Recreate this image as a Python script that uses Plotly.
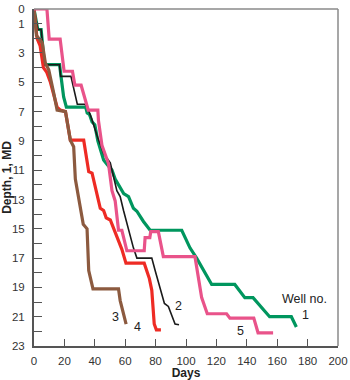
import plotly.graph_objects as go

# Drilling progress: measured depth vs. elapsed days for five wells
days_w1 = [0, 2.5, 4.7, 6.9, 16.8, 19.5, 21.3, 34, 35, 36.5, 38.2, 40, 42, 45.8, 48, 51.3,
           53.4, 57, 59, 62.2, 65.4, 67.7, 72, 76.4, 97.2, 102.6, 107, 116.9, 132.1, 138.7,
           144.1, 155, 169.3, 172.6]
depth_w1 = [0, 1.4, 1.4, 3.8, 3.8, 6.0, 6.7, 6.7, 7.1, 7.2, 7.7, 7.9, 9.0, 10.3, 10.6, 11.0,
            11.6, 12.3, 12.6, 12.8, 13.6, 13.8, 14.5, 15.1, 15.1, 16.3, 17.0, 18.8, 18.8, 19.7,
            19.7, 21.0, 21.0, 21.7]

days_w2 = [0, 2.5, 4.7, 6.9, 16.8, 17.5, 24.3, 28.5, 33.5, 35.5, 38, 42, 46, 50.2, 54.5,
           56.7, 58.9, 60, 65.4, 67.7, 77.5, 79.7, 83, 85.8, 88.4, 90.6, 92.8, 95.4]
depth_w2 = [0, 1.4, 1.4, 3.8, 3.8, 4.6, 4.6, 6.5, 6.5, 6.8, 7.5, 8.8, 9.9, 10.5, 12.4,
            12.8, 13.75, 14.2, 16.3, 17.0, 17.0, 17.85, 19.0, 20.1, 20.3, 20.9, 21.5, 21.55]

days_w3 = [0, 1.6, 3.1, 5.4, 7.5, 9.7, 13, 15.2, 20.7, 22.8, 23.9, 26.1, 27.2, 32.4, 34.9,
           36, 38.8, 55.6, 56.7, 60.6]
depth_w3 = [0, 1.8, 2.0, 2.3, 3.7, 4.15, 5.75, 6.9, 7.0, 8.3, 8.95, 9.4, 11.6, 14.7, 15.0,
            17.85, 19.1, 19.1, 19.9, 21.5]

days_w4 = [0, 2, 4, 6.2, 8.3, 10.8, 15.2, 17.4, 20.7, 23.9, 32.7, 36, 38.2, 43.6, 45.8,
           47.5, 50.2, 57.8, 60.5, 72.5, 75.9, 77.5, 79.1, 80.5, 83.5]
depth_w4 = [0, 2.0, 2.5, 4.0, 4.3, 5.0, 6.7, 6.9, 7.0, 8.95, 8.95, 11.1, 11.2, 13.6, 13.75,
            14.25, 14.4, 16.4, 17.35, 17.35, 18.4, 19.2, 21.5, 21.9, 21.9]

days_w5 = [0, 8.5, 10, 17.2, 19.8, 25.3, 26.9, 31, 35.7, 42, 42.4, 44.7, 49, 51.3, 53.4,
           55.6, 57.8, 61.1, 72.5, 73.1, 76.2, 76.8, 81.8, 85.1, 105.9, 110.3, 114, 126.7,
           128.9, 144.6, 147.4, 157.3]
depth_w5 = [0, 0, 2.05, 2.05, 4.25, 4.25, 5.2, 5.2, 6.9, 6.9, 7.6, 9.3, 10.55, 12.4, 13.1,
            15.1, 15.1, 16.5, 16.5, 15.6, 15.6, 15.2, 15.2, 16.9, 16.9, 19.7, 20.8, 20.8,
            21.1, 21.1, 22.1, 22.1]

# Label positions (days, depth) for the well numbers
well_labels = ["1", "2", "3", "4", "5"]
label_days = [178.5, 95.2, 53.4, 68.3, 136]
label_depth = [20.9, 20.3, 21.05, 21.7, 22.0]

y_ticks = list(range(0, 24))
y_ticktext = [str(v) if (v == 0 or v % 2 == 1) else "" for v in y_ticks]
x_ticks = list(range(0, 201, 20))

FONT = "Liberation Sans, Arial, sans-serif"

series = [
    (days_w1, depth_w1, "#00965e", 3.2),
    (days_w2, depth_w2, "#1a1a1a", 1.6),
    (days_w4, depth_w4, "#ee2b24", 3.2),
    (days_w3, depth_w3, "#8c5a3f", 3.2),
    (days_w5, depth_w5, "#e9538a", 3.2),
]

fig = go.Figure()
for xs, ys, color, width in series:
    fig.add_trace(go.Scatter(x=xs, y=ys, mode="lines",
                             line=dict(color=color, width=width),
                             hoverinfo="skip", showlegend=False))

annotations = [dict(x=d, y=z, text=t, showarrow=False, xref="x", yref="y",
                    font=dict(family=FONT, size=12.5, color="#222"))
               for t, d, z in zip(well_labels, label_days, label_depth)]
annotations.append(dict(x=178, y=19.8, text="Well no.", showarrow=False, xref="x", yref="y",
                        font=dict(family=FONT, size=12.5, color="#222")))

fig.update_layout(
    width=350, height=380,
    margin=dict(l=34, r=12, t=9, b=34),
    paper_bgcolor="white", plot_bgcolor="white",
    font=dict(family=FONT, size=12, color="#333"),
    annotations=annotations,
    shapes=[
        dict(type="line", xref="paper", yref="paper", x0=0, x1=1, y0=1, y1=1,
             line=dict(color="#8a8a8a", width=1.5)),
        dict(type="line", xref="paper", yref="paper", x0=1, x1=1, y0=0, y1=1,
             line=dict(color="#8a8a8a", width=1.5)),
    ],
    xaxis=dict(range=[0, 200], tickvals=x_ticks, ticks="inside", ticklen=7,
               tickcolor="#555", tickwidth=1.2, showgrid=False, zeroline=False,
               showline=True, linecolor="#555", linewidth=2, automargin=False,
               ticklabelstandoff=3,
               tickfont=dict(family=FONT, size=11.5, color="#333"),
               title=dict(text="<b>Days</b>", standoff=3,
                          font=dict(family=FONT, size=12, color="#222"))),
    yaxis=dict(range=[23, 0], tickvals=y_ticks, ticktext=y_ticktext, ticks="inside",
               ticklen=8, tickcolor="#555", tickwidth=1.2, showgrid=False, zeroline=False,
               showline=True, linecolor="#555", linewidth=2, automargin=False,
               ticklabelstandoff=5,
               tickfont=dict(family=FONT, size=11.5, color="#333"),
               title=dict(text="<b>Depth, 1, MD</b>", standoff=3,
                          font=dict(family=FONT, size=12, color="#222"))),
)

fig.write_html("out.html")
